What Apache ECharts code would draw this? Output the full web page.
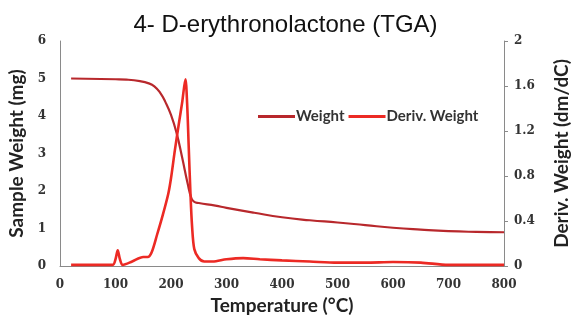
<!DOCTYPE html>
<html>
<head>
    <meta charset="utf-8">
    <title>TGA</title>
    <script src="https://cdn.jsdelivr.net/npm/echarts@6.0.0/dist/echarts.min.js"></script>
</head>
<body style="margin:0;background:#fff;">
<div id="main" style="width:571px;height:320px;"></div>
<script type="text/javascript">
    // weight curve (mg)
    var weightT = [20, 100, 120, 144, 160, 170, 180, 190, 200, 210, 220, 230, 237, 242, 250, 280, 300, 350, 400, 450, 500, 550, 600, 650, 700, 750, 800];
    var weightV = [5.0, 4.98, 4.97, 4.93, 4.87, 4.79, 4.63, 4.37, 4.03, 3.55, 2.9, 2.2, 1.8, 1.71, 1.68, 1.61, 1.55, 1.42, 1.3, 1.22, 1.16, 1.09, 1.02, 0.97, 0.93, 0.91, 0.9];
    // derivative curve (dm/dC)
    var derivT = [20, 95, 100, 104, 108, 113, 130, 150, 158, 165, 175, 185, 195, 200, 207, 214, 220, 226, 229, 232, 235, 238, 242, 250, 260, 275, 300, 330, 360, 400, 450, 500, 550, 600, 650, 700, 750, 800];
    var derivV = [0.01, 0.01, 0.06, 0.14, 0.06, 0.01, 0.04, 0.08, 0.08, 0.12, 0.28, 0.45, 0.64, 0.78, 1.03, 1.26, 1.45, 1.66, 1.45, 1.05, 0.65, 0.35, 0.15, 0.07, 0.04, 0.04, 0.06, 0.07, 0.06, 0.05, 0.04, 0.03, 0.03, 0.035, 0.03, 0.01, 0.01, 0.01];

    function pairs(xs, ys) {
        return xs.map(function (x, i) { return [x, ys[i]]; });
    }

    var tickFont = { fontFamily: 'DejaVu Serif', fontWeight: 'bold', fontSize: 12, color: '#333' };
    var nameFont = { fontFamily: 'Lato', fontWeight: 'bold', fontSize: 19, color: '#222' };

    var myChart = echarts.init(document.getElementById('main'));
    myChart.setOption({
        animation: false,
        title: {
            text: '4- D-erythronolactone (TGA)',
            left: 'center',
            top: 8,
            textStyle: { fontFamily: 'Liberation Sans', fontWeight: 'normal', fontSize: 24, color: '#111' }
        },
        legend: {
            left: 253,
            top: 104,
            itemWidth: 37,
            itemHeight: 3,
            itemGap: 4,
            icon: 'rect',
            textStyle: { fontFamily: 'Lato', fontWeight: 'bold', fontSize: 15, color: '#333', padding: [0, 0, 0, -4] },
            data: ['Weight', 'Deriv. Weight']
        },
        grid: { left: 60, right: 67, top: 41, bottom: 54, outerBoundsMode: 'none', containLabel: false },
        xAxis: {
            type: 'value',
            min: 0, max: 800, interval: 100,
            name: 'Temperature (°C)',
            nameLocation: 'middle',
            nameGap: 30,
            nameTextStyle: nameFont,
            axisLine: { lineStyle: { color: '#8a8a8a' } },
            axisTick: { show: false },
            splitLine: { show: false },
            axisLabel: Object.assign({ margin: 13 }, tickFont)
        },
        yAxis: [
            {
                type: 'value',
                min: 0, max: 6, interval: 1,
                name: 'Sample Weight (mg)',
                nameLocation: 'middle',
                nameGap: 31,
                nameTextStyle: nameFont,
                axisLine: { show: true, lineStyle: { color: '#8a8a8a' } },
                axisTick: { show: false },
                splitLine: { show: false },
                axisLabel: Object.assign({ margin: 14 }, tickFont)
            },
            {
                type: 'value',
                min: 0, max: 2, interval: 0.4,
                name: 'Deriv. Weight (dm/dC)',
                nameLocation: 'middle',
                nameGap: 48,
                nameTextStyle: nameFont,
                position: 'right',
                axisLine: { show: true, lineStyle: { color: '#8a8a8a' } },
                axisTick: { show: true, length: 4, lineStyle: { color: '#8a8a8a' } },
                splitLine: { show: false },
                axisLabel: Object.assign({ margin: 10 }, tickFont)
            }
        ],
        series: [
            {
                name: 'Weight',
                type: 'line',
                yAxisIndex: 0,
                symbol: 'none',
                smooth: 0.5,
                color: '#b8282c',
                lineStyle: { width: 2.2, color: '#b8282c' },
                data: pairs(weightT, weightV)
            },
            {
                name: 'Deriv. Weight',
                type: 'line',
                yAxisIndex: 1,
                symbol: 'none',
                smooth: 0.3,
                color: '#ec2a24',
                lineStyle: { width: 2.6, color: '#ec2a24' },
                data: pairs(derivT, derivV)
            }
        ]
    });
</script>
</body>
</html>
